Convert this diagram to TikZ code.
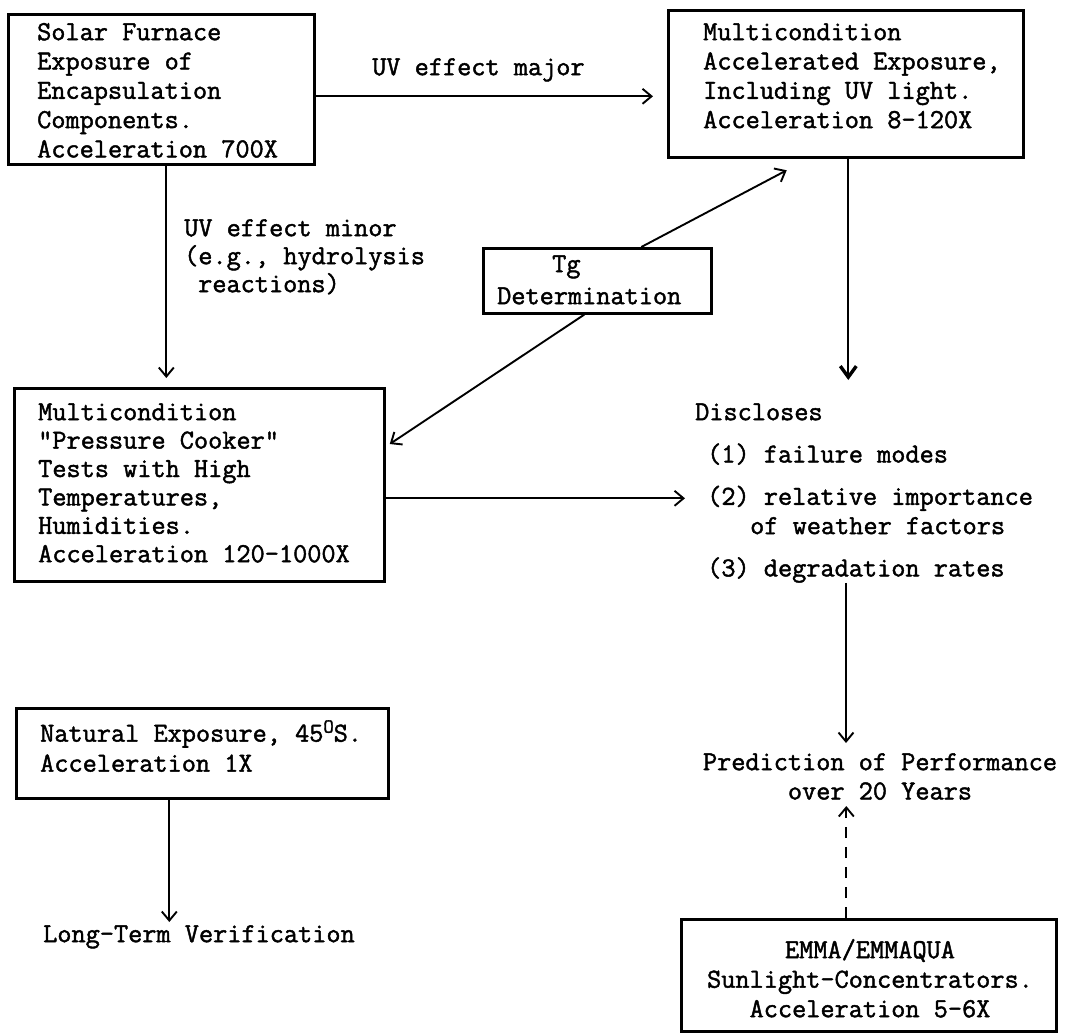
\documentclass[tikz,border=0pt]{standalone}
\usepackage{fontspec}
\newfontfamily\mono{Latin Modern Mono}[FakeBold=1.6]
\usetikzlibrary{arrows.meta}
\newcommand\mystrut{\rule{0pt}{20pt}}
\begin{document}
\begin{tikzpicture}[x=1pt,y=-1pt,
  box/.style={draw, line width=2.6pt, inner sep=0pt, anchor=north west},
  txt/.style={inner sep=0pt, anchor=north west, align=left, font=\mono\fontsize{27.5}{29.3}\selectfont},
  arr/.style={line width=1.9pt, -{Straight Barb[length=9pt,width=15pt]}},
  heavyarr/.style={line width=2.3pt, -{Straight Barb[length=11pt,width=16pt,line width=3.4pt]}}]
\useasboundingbox (0,0) rectangle (1069,1036);
% boxes
\node[box, minimum width=306pt, minimum height=150pt] (b1) at (7,13) {};
\node[box, minimum width=355pt, minimum height=147pt] (b2) at (667,9) {};
\node[box, minimum width=370pt, minimum height=193pt] (b3) at (13,387) {};
\node[box, minimum width=228pt, minimum height=65pt] (tg) at (482,247) {};
\node[box, minimum width=372pt, minimum height=90pt] (b4) at (15,707) {};
\node[box, minimum width=375pt, minimum height=112pt] (b5) at (680,918) {};
% texts
\node[txt] (t1) at (37,20) {\mystrut Solar Furnace\\Exposure of\\Encapsulation\\Components.\\Acceleration 700X};
\node[txt] (t2) at (703,20) {\mystrut Multicondition\\Accelerated Exposure,\\Including UV light.\\Acceleration 8-120X};
\node[txt, font=\mono\fontsize{27.5}{28.4}\selectfont] (t3) at (38,400) {\mystrut Multicondition\\"Pressure Cooker"\\Tests with High\\Temperatures,\\Humidities.\\Acceleration 120-1000X};
\node[txt, font=\mono\fontsize{27.5}{32}\selectfont] (t4) at (497,252) {\mystrut\hspace*{55pt}Tg\\Determination};
\node[txt, font=\mono\fontsize{27.5}{30}\selectfont] (t5) at (40,720) {\mystrut Natural Exposure, 45{\fontsize{20}{20}\selectfont\raisebox{9pt}{O}}S.\\Acceleration 1X};
\node[txt, anchor=north, align=center, font=\mono\fontsize{27.5}{29.5}\selectfont] (t6) at (870,938) {\mystrut EMMA/EMMAQUA\\Sunlight-Concentrators.\\Acceleration 5-6X};
\node[txt] (l1) at (372,55) {\mystrut UV effect major};
\node[txt, font=\mono\fontsize{27.5}{28}\selectfont] (l2) at (184,216) {\mystrut UV effect minor\\(e.g., hydrolysis\\\hspace*{14pt}reactions)};
\node[txt] (disc) at (695,400) {\mystrut Discloses\\[13pt]\hspace*{12pt}(1) failure modes\\[13pt]\hspace*{12pt}(2) relative importance\\\hspace*{55pt}of weather factors\\[13pt]\hspace*{12pt}(3) degradation rates};
\node[txt, anchor=north, align=center] (pred) at (880,750) {\mystrut Prediction of Performance\\over 20 Years};
\node[txt] (lt) at (43,922) {\mystrut Long-Term Verification};
% connectors
\draw[arr, shorten >=14pt] ([yshift=-7pt]b1.east) -- ([yshift=-7pt]b1.east -| b2.west);
\draw[arr, shorten >=9pt] ([xshift=5pt]b1.south) -- ([xshift=5pt]b1.south |- b3.north);
\draw[heavyarr, shorten >=20pt] ([xshift=2.5pt]b2.south) -- ([xshift=2.5pt]b2.south |- disc.north);
\draw[arr, shorten >=25pt] ([xshift=44pt]tg.north) -- ([xshift=-37pt]b2.south);
\draw[arr, shorten >=5pt] ([xshift=-13pt]tg.south) -- ([yshift=38pt]b3.east);
\draw[arr, shorten >=10pt] ([yshift=-13.5pt]b3.east) -- ([yshift=-13.5pt]b3.east -| disc.west);
\draw[arr, shorten >=7pt] ([xshift=-34pt]pred.north |- disc.south) -- ([xshift=-34pt]pred.north);
\draw[arr, dash pattern=on 11pt off 9pt, shorten >=6pt] ([xshift=-22.5pt]b5.north) -- ([xshift=-22.5pt]b5.north |- pred.south);
\draw[arr] ([xshift=-33pt]b4.south) -- ([xshift=-33pt]b4.south |- lt.north);
\end{tikzpicture}
\end{document}
